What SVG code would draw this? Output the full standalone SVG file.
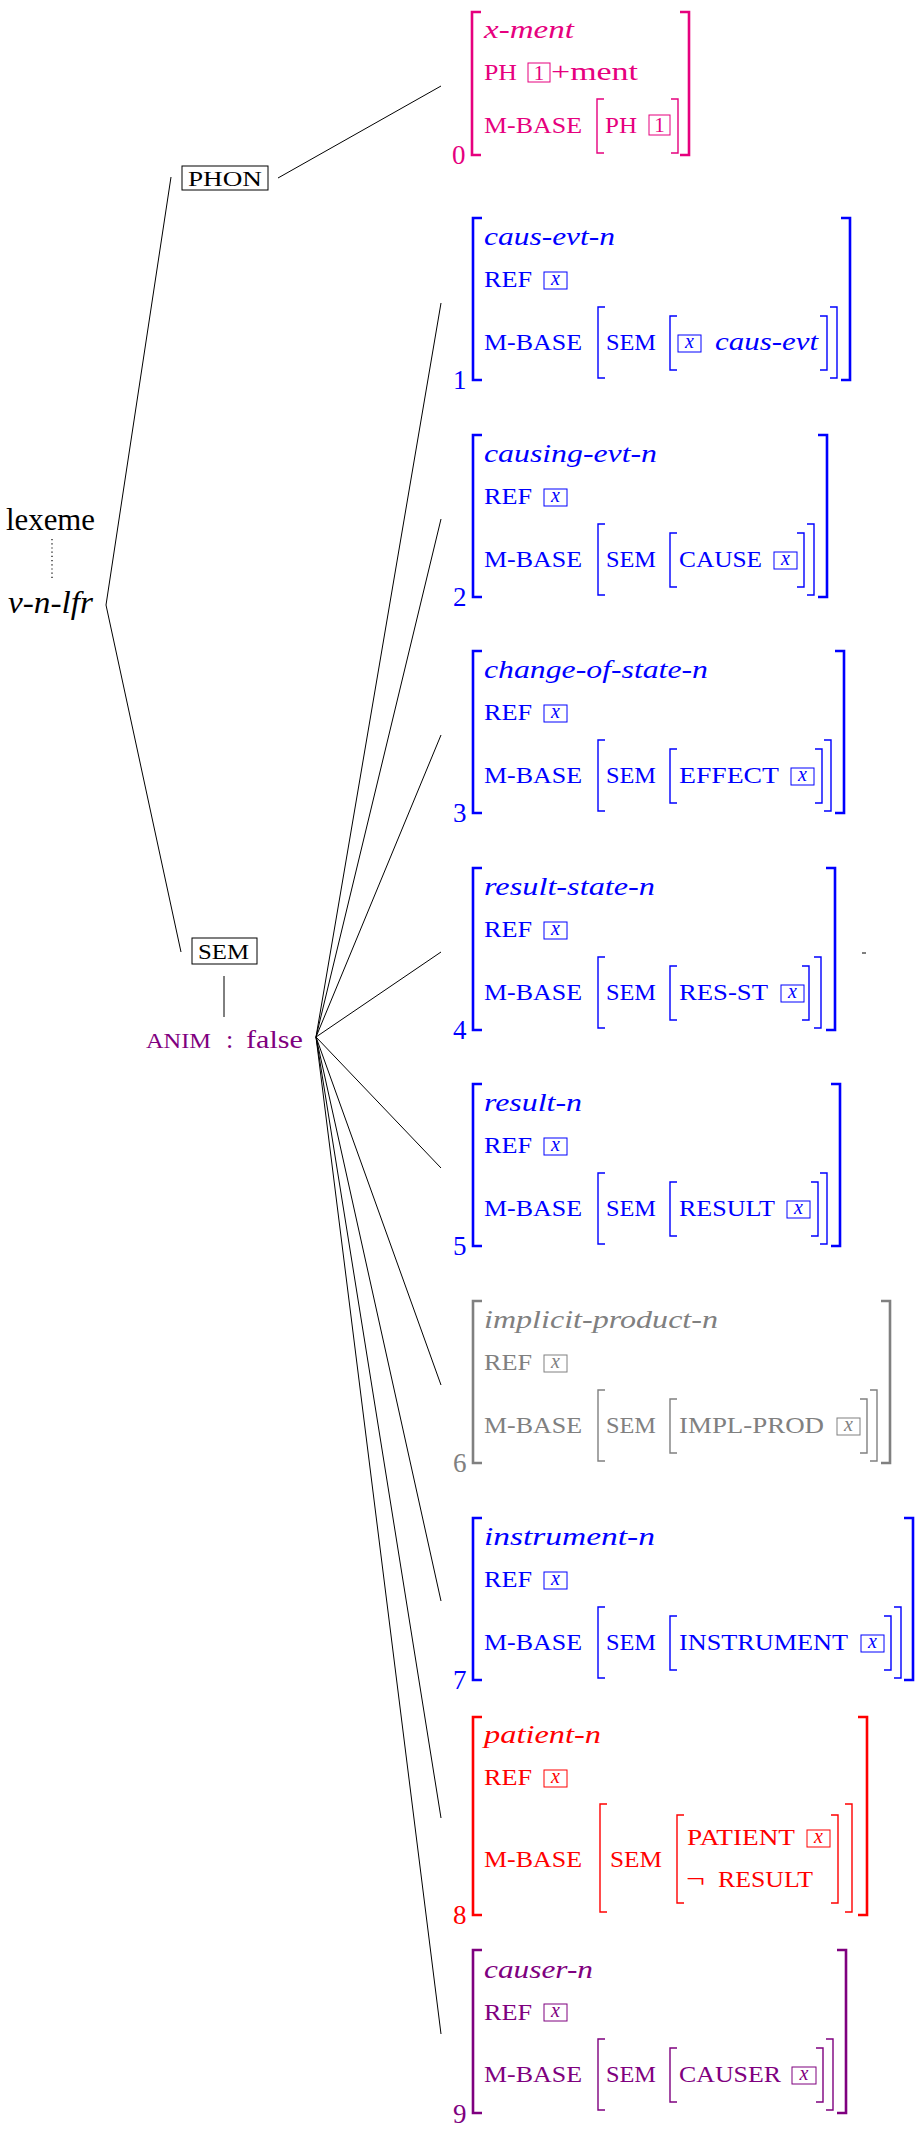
<svg xmlns="http://www.w3.org/2000/svg" width="923" height="2135" viewBox="0 0 923 2135" font-family="'Liberation Serif', 'DejaVu Serif', 'Times New Roman', serif">
<style>
text{font-family:'Liberation Serif','DejaVu Serif','Times New Roman',serif;fill:currentColor}
.it{font-style:italic;font-size:26px}
.sc{font-size:23px}
.rm{font-size:26px}
.num{font-size:27px}
.bx{font-style:italic;font-size:20px;text-anchor:middle}
.ob{fill:none;stroke:currentColor;stroke-width:2.6}
.ib{fill:none;stroke:currentColor;stroke-width:1.4}
.tag{fill:none;stroke:currentColor;stroke-width:1}
.con line{stroke:#000;stroke-width:1}
.blue{color:#0000FF}.mag{color:#E6007E}.grey{color:#808080}.red{color:#FF0000}.pur{color:#7F007F}.blk{color:#000}
</style>
<g class="con">
<line x1="106" y1="605" x2="171" y2="177"/>
<line x1="106" y1="605" x2="181" y2="952"/>
<line x1="278" y1="178" x2="441" y2="86"/>
<line x1="224" y1="976" x2="224" y2="1017"/>
<line x1="316" y1="1037" x2="441" y2="303"/>
<line x1="316" y1="1037" x2="441" y2="519"/>
<line x1="316" y1="1037" x2="441" y2="735"/>
<line x1="316" y1="1037" x2="441" y2="952"/>
<line x1="316" y1="1037" x2="441" y2="1168"/>
<line x1="316" y1="1037" x2="441" y2="1385"/>
<line x1="316" y1="1037" x2="441" y2="1601"/>
<line x1="316" y1="1037" x2="441" y2="1818"/>
<line x1="316" y1="1037" x2="441" y2="2034"/>
</g>
<g id="lexeme" class="blk">
<text x="6" y="530" font-size="31" textLength="89" lengthAdjust="spacingAndGlyphs">lexeme</text>
<line x1="52" y1="539" x2="52" y2="578" stroke="#000" stroke-width="1.2" stroke-dasharray="1.2,3"/>
<text x="8" y="613" font-size="31" font-style="italic" textLength="85" lengthAdjust="spacingAndGlyphs">v-n-lfr</text>
</g>
<g id="phon" class="blk">
<rect class="tag" x="182" y="166" width="86" height="24"/>
<text x="188" y="186" font-size="22" textLength="74" lengthAdjust="spacingAndGlyphs">PHON</text>
</g>
<g id="sem" class="blk">
<rect class="tag" x="192" y="938" width="65" height="26"/>
<text x="198" y="959" font-size="22" textLength="51" lengthAdjust="spacingAndGlyphs">SEM</text>
</g>
<g id="anim" class="pur">
<text x="146" y="1048" font-size="21" textLength="65" lengthAdjust="spacingAndGlyphs">ANIM</text>
<text x="226" y="1048" class="rm">:</text>
<text x="246" y="1048" class="rm" textLength="57" lengthAdjust="spacingAndGlyphs">false</text>
</g>
<line x1="862" y1="953" x2="866" y2="953" stroke="#000" stroke-width="1"/>
<g id="avm0" class="mag">
<path class="ob" d="M481,12 H472 V155 H481"/>
<path class="ob" d="M680,12 H689 V155 H680"/>
<text x="484" y="38" class="it" textLength="90" lengthAdjust="spacingAndGlyphs">x-ment</text>
<text x="484" y="80" class="sc" textLength="33" lengthAdjust="spacingAndGlyphs">PH</text>
<rect class="tag" x="528" y="63" width="22" height="19"/>
<text x="539" y="80" font-size="21" text-anchor="middle">1</text>
<text x="551" y="80" class="rm" textLength="87" lengthAdjust="spacingAndGlyphs">+ment</text>
<text x="484" y="133" class="sc" textLength="98" lengthAdjust="spacingAndGlyphs">M-BASE</text>
<path class="ib" d="M604,99 H597 V153 H604"/>
<path class="ib" d="M671,99 H678 V153 H671"/>
<text x="605" y="133" class="sc" textLength="32" lengthAdjust="spacingAndGlyphs">PH</text>
<rect class="tag" x="649" y="115" width="21" height="20"/>
<text x="659.5" y="132" font-size="21" text-anchor="middle">1</text>
<text x="452" y="164" class="num">0</text>
</g>
<g id="avm1" class="blue">
<path class="ob" d="M482,218 H473 V380 H482"/>
<path class="ob" d="M841,218 H850 V380 H841"/>
<text x="484" y="245" class="it" textLength="131" lengthAdjust="spacingAndGlyphs">caus-evt-n</text>
<text x="484" y="287" class="sc" textLength="48" lengthAdjust="spacingAndGlyphs">REF</text>
<rect class="tag" x="544" y="272" width="23" height="17"/>
<text x="555.5" y="285" class="bx">x</text>
<text x="484" y="350" class="sc" textLength="98" lengthAdjust="spacingAndGlyphs">M-BASE</text>
<path class="ib" d="M605,307 H598 V378 H605"/>
<path class="ib" d="M830,307 H837 V378 H830"/>
<text x="606" y="350" class="sc" textLength="50" lengthAdjust="spacingAndGlyphs">SEM</text>
<path class="ib" d="M677,316 H670 V370 H677"/>
<path class="ib" d="M820,316 H827 V370 H820"/>
<rect class="tag" x="678" y="335" width="23" height="17"/>
<text x="689.5" y="348" class="bx">x</text>
<text x="715" y="350" class="it" textLength="103" lengthAdjust="spacingAndGlyphs">caus-evt</text>
<text x="453" y="389" class="num">1</text>
</g>
<g id="avm2" class="blue">
<path class="ob" d="M482,435 H473 V597 H482"/>
<path class="ob" d="M818,435 H827 V597 H818"/>
<text x="484" y="462" class="it" textLength="173" lengthAdjust="spacingAndGlyphs">causing-evt-n</text>
<text x="484" y="504" class="sc" textLength="48" lengthAdjust="spacingAndGlyphs">REF</text>
<rect class="tag" x="544" y="489" width="23" height="17"/>
<text x="555.5" y="502" class="bx">x</text>
<text x="484" y="567" class="sc" textLength="98" lengthAdjust="spacingAndGlyphs">M-BASE</text>
<path class="ib" d="M605,524 H598 V595 H605"/>
<path class="ib" d="M807,524 H814 V595 H807"/>
<text x="606" y="567" class="sc" textLength="50" lengthAdjust="spacingAndGlyphs">SEM</text>
<path class="ib" d="M677,533 H670 V587 H677"/>
<path class="ib" d="M797,533 H804 V587 H797"/>
<text x="679" y="567" class="sc" textLength="83" lengthAdjust="spacingAndGlyphs">CAUSE</text>
<rect class="tag" x="774" y="552" width="23" height="17"/>
<text x="785.5" y="565" class="bx">x</text>
<text x="453" y="606" class="num">2</text>
</g>
<g id="avm3" class="blue">
<path class="ob" d="M482,651 H473 V813 H482"/>
<path class="ob" d="M835,651 H844 V813 H835"/>
<text x="484" y="678" class="it" textLength="224" lengthAdjust="spacingAndGlyphs">change-of-state-n</text>
<text x="484" y="720" class="sc" textLength="48" lengthAdjust="spacingAndGlyphs">REF</text>
<rect class="tag" x="544" y="705" width="23" height="17"/>
<text x="555.5" y="718" class="bx">x</text>
<text x="484" y="783" class="sc" textLength="98" lengthAdjust="spacingAndGlyphs">M-BASE</text>
<path class="ib" d="M605,740 H598 V811 H605"/>
<path class="ib" d="M824,740 H831 V811 H824"/>
<text x="606" y="783" class="sc" textLength="50" lengthAdjust="spacingAndGlyphs">SEM</text>
<path class="ib" d="M677,749 H670 V803 H677"/>
<path class="ib" d="M815,749 H822 V803 H815"/>
<text x="679" y="783" class="sc" textLength="100" lengthAdjust="spacingAndGlyphs">EFFECT</text>
<rect class="tag" x="791" y="768" width="23" height="17"/>
<text x="802.5" y="781" class="bx">x</text>
<text x="453" y="822" class="num">3</text>
</g>
<g id="avm4" class="blue">
<path class="ob" d="M482,868 H473 V1030 H482"/>
<path class="ob" d="M826,868 H835 V1030 H826"/>
<text x="484" y="895" class="it" textLength="171" lengthAdjust="spacingAndGlyphs">result-state-n</text>
<text x="484" y="937" class="sc" textLength="48" lengthAdjust="spacingAndGlyphs">REF</text>
<rect class="tag" x="544" y="922" width="23" height="17"/>
<text x="555.5" y="935" class="bx">x</text>
<text x="484" y="1000" class="sc" textLength="98" lengthAdjust="spacingAndGlyphs">M-BASE</text>
<path class="ib" d="M605,957 H598 V1028 H605"/>
<path class="ib" d="M814,957 H821 V1028 H814"/>
<text x="606" y="1000" class="sc" textLength="50" lengthAdjust="spacingAndGlyphs">SEM</text>
<path class="ib" d="M677,966 H670 V1020 H677"/>
<path class="ib" d="M802,966 H809 V1020 H802"/>
<text x="679" y="1000" class="sc" textLength="89" lengthAdjust="spacingAndGlyphs">RES-ST</text>
<rect class="tag" x="781" y="985" width="23" height="17"/>
<text x="792.5" y="998" class="bx">x</text>
<text x="453" y="1039" class="num">4</text>
</g>
<g id="avm5" class="blue">
<path class="ob" d="M482,1084 H473 V1246 H482"/>
<path class="ob" d="M831,1084 H840 V1246 H831"/>
<text x="484" y="1111" class="it" textLength="98" lengthAdjust="spacingAndGlyphs">result-n</text>
<text x="484" y="1153" class="sc" textLength="48" lengthAdjust="spacingAndGlyphs">REF</text>
<rect class="tag" x="544" y="1138" width="23" height="17"/>
<text x="555.5" y="1151" class="bx">x</text>
<text x="484" y="1216" class="sc" textLength="98" lengthAdjust="spacingAndGlyphs">M-BASE</text>
<path class="ib" d="M605,1173 H598 V1244 H605"/>
<path class="ib" d="M820,1173 H827 V1244 H820"/>
<text x="606" y="1216" class="sc" textLength="50" lengthAdjust="spacingAndGlyphs">SEM</text>
<path class="ib" d="M677,1182 H670 V1236 H677"/>
<path class="ib" d="M811,1182 H818 V1236 H811"/>
<text x="679" y="1216" class="sc" textLength="96" lengthAdjust="spacingAndGlyphs">RESULT</text>
<rect class="tag" x="787" y="1201" width="23" height="17"/>
<text x="798.5" y="1214" class="bx">x</text>
<text x="453" y="1255" class="num">5</text>
</g>
<g id="avm6" class="grey">
<path class="ob" d="M482,1301 H473 V1463 H482"/>
<path class="ob" d="M881,1301 H890 V1463 H881"/>
<text x="484" y="1328" class="it" textLength="234" lengthAdjust="spacingAndGlyphs">implicit-product-n</text>
<text x="484" y="1370" class="sc" textLength="48" lengthAdjust="spacingAndGlyphs">REF</text>
<rect class="tag" x="544" y="1355" width="23" height="17"/>
<text x="555.5" y="1368" class="bx">x</text>
<text x="484" y="1433" class="sc" textLength="98" lengthAdjust="spacingAndGlyphs">M-BASE</text>
<path class="ib" d="M605,1390 H598 V1461 H605"/>
<path class="ib" d="M870,1390 H877 V1461 H870"/>
<text x="606" y="1433" class="sc" textLength="50" lengthAdjust="spacingAndGlyphs">SEM</text>
<path class="ib" d="M677,1399 H670 V1453 H677"/>
<path class="ib" d="M860,1399 H867 V1453 H860"/>
<text x="679" y="1433" class="sc" textLength="145" lengthAdjust="spacingAndGlyphs">IMPL-PROD</text>
<rect class="tag" x="837" y="1418" width="23" height="17"/>
<text x="848.5" y="1431" class="bx">x</text>
<text x="453" y="1472" class="num">6</text>
</g>
<g id="avm7" class="blue">
<path class="ob" d="M482,1518 H473 V1680 H482"/>
<path class="ob" d="M904,1518 H913 V1680 H904"/>
<text x="484" y="1545" class="it" textLength="171" lengthAdjust="spacingAndGlyphs">instrument-n</text>
<text x="484" y="1587" class="sc" textLength="48" lengthAdjust="spacingAndGlyphs">REF</text>
<rect class="tag" x="544" y="1572" width="23" height="17"/>
<text x="555.5" y="1585" class="bx">x</text>
<text x="484" y="1650" class="sc" textLength="98" lengthAdjust="spacingAndGlyphs">M-BASE</text>
<path class="ib" d="M605,1607 H598 V1678 H605"/>
<path class="ib" d="M894,1607 H901 V1678 H894"/>
<text x="606" y="1650" class="sc" textLength="50" lengthAdjust="spacingAndGlyphs">SEM</text>
<path class="ib" d="M677,1616 H670 V1670 H677"/>
<path class="ib" d="M884,1616 H891 V1670 H884"/>
<text x="679" y="1650" class="sc" textLength="169" lengthAdjust="spacingAndGlyphs">INSTRUMENT</text>
<rect class="tag" x="861" y="1635" width="23" height="17"/>
<text x="872.5" y="1648" class="bx">x</text>
<text x="453" y="1689" class="num">7</text>
</g>
<g id="avm8" class="red">
<path class="ob" d="M482,1717 H473 V1915 H482"/>
<path class="ob" d="M858,1717 H867 V1915 H858"/>
<text x="484" y="1743" class="it" textLength="117" lengthAdjust="spacingAndGlyphs">patient-n</text>
<text x="484" y="1785" class="sc" textLength="48" lengthAdjust="spacingAndGlyphs">REF</text>
<rect class="tag" x="544" y="1770" width="23" height="17"/>
<text x="555.5" y="1783" class="bx">x</text>
<text x="484" y="1867" class="sc" textLength="98" lengthAdjust="spacingAndGlyphs">M-BASE</text>
<path class="ib" d="M607,1804 H600 V1912 H607"/>
<path class="ib" d="M845,1804 H852 V1912 H845"/>
<text x="610" y="1867" class="sc" textLength="52" lengthAdjust="spacingAndGlyphs">SEM</text>
<path class="ib" d="M684,1815 H677 V1903 H684"/>
<path class="ib" d="M831,1815 H838 V1903 H831"/>
<text x="687" y="1845" class="sc" textLength="108" lengthAdjust="spacingAndGlyphs">PATIENT</text>
<rect class="tag" x="807" y="1830" width="23" height="17"/>
<text x="818.5" y="1843" class="bx">x</text>
<text x="686" y="1887" class="rm" textLength="19" lengthAdjust="spacingAndGlyphs">¬</text>
<text x="718" y="1887" class="sc" textLength="95" lengthAdjust="spacingAndGlyphs">RESULT</text>
<text x="453" y="1924" class="num">8</text>
</g>
<g id="avm9" class="pur">
<path class="ob" d="M482,1950 H473 V2113 H482"/>
<path class="ob" d="M837,1950 H846 V2113 H837"/>
<text x="484" y="1978" class="it" textLength="109" lengthAdjust="spacingAndGlyphs">causer-n</text>
<text x="484" y="2020" class="sc" textLength="48" lengthAdjust="spacingAndGlyphs">REF</text>
<rect class="tag" x="544" y="2004" width="23" height="17"/>
<text x="555.5" y="2017" class="bx">x</text>
<text x="484" y="2082" class="sc" textLength="98" lengthAdjust="spacingAndGlyphs">M-BASE</text>
<path class="ib" d="M605,2039 H598 V2110 H605"/>
<path class="ib" d="M826,2039 H833 V2110 H826"/>
<text x="606" y="2082" class="sc" textLength="50" lengthAdjust="spacingAndGlyphs">SEM</text>
<path class="ib" d="M677,2048 H670 V2102 H677"/>
<path class="ib" d="M816,2048 H823 V2102 H816"/>
<text x="679" y="2082" class="sc" textLength="102" lengthAdjust="spacingAndGlyphs">CAUSER</text>
<rect class="tag" x="792" y="2067" width="24" height="17"/>
<text x="804" y="2080" class="bx">x</text>
<text x="453" y="2123" class="num">9</text>
</g>
</svg>
